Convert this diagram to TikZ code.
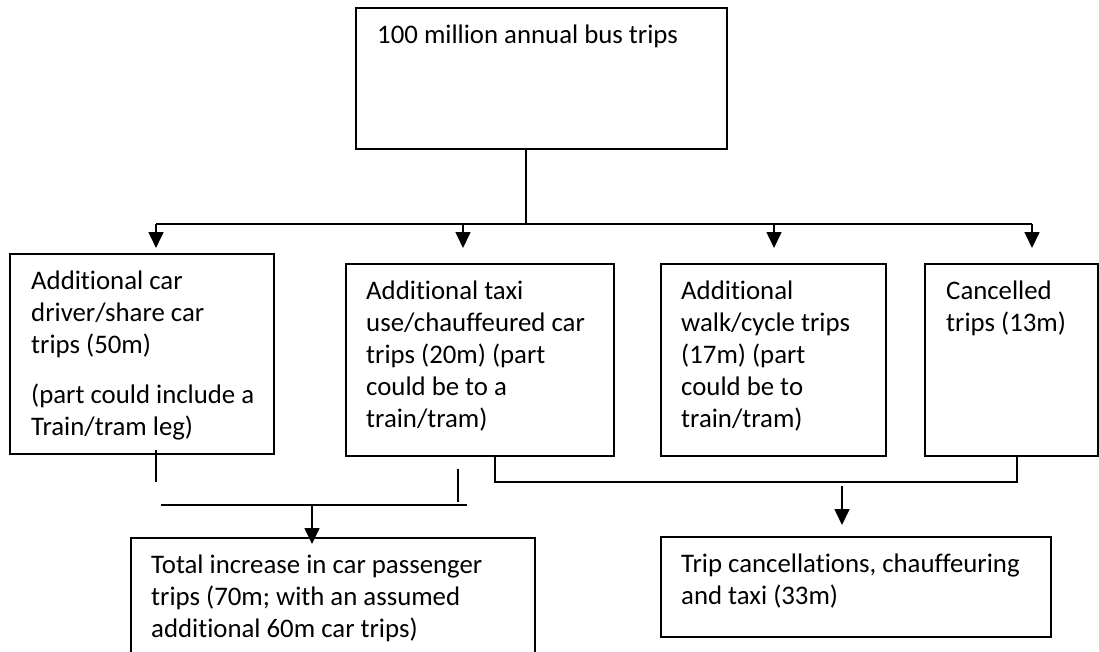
\documentclass[tikz,border=0pt]{standalone}
\usepackage{fontspec}
\setmainfont{Carlito}[Ligatures=NoCommon]
\usetikzlibrary{arrows.meta}
\begin{document}
\begin{tikzpicture}[x=1pt,y=-1pt,
  box/.style={draw=black,line width=1.7pt,rectangle,inner sep=0pt,anchor=north west},
  txt/.style={inner sep=0pt,anchor=north west,align=left,font=\fontsize{26.8}{32}\selectfont},
  conn/.style={draw=black,line width=1.6pt},
  arr/.style={conn,-{Triangle[length=16pt,width=15pt]}}]
\useasboundingbox (0,0) rectangle (1099,651);
\clip (0,0) rectangle (1099,651);
\fill[white] (0,0) rectangle (1099,651);
% boxes
\node[box,minimum width=371pt,minimum height=141pt] (top) at (355,7) {};
\node[box,minimum width=264pt,minimum height=200pt] (b1) at (9,253) {};
\node[box,minimum width=268pt,minimum height=192pt] (b2) at (345,263) {};
\node[box,minimum width=225pt,minimum height=192pt] (b3) at (660,263) {};
\node[box,minimum width=173pt,minimum height=192pt] (b4) at (924,263) {};
\node[box,minimum width=404pt,minimum height=140pt] (b5) at (130,537) {};
\node[box,minimum width=390pt,minimum height=100pt] (b6) at (660,536) {};
% texts
\newcommand\fl{\rule{0pt}{26pt}}
\node[txt] (ttop) at ([xshift=22pt,yshift=-10pt]top.north west) {\fl 100 million annual bus trips};
\node[txt] (t1) at ([xshift=22pt,yshift=-10pt]b1.north west) {\fl Additional car\\driver/share car\\trips (50m)\\[18pt](part could include a\\Train/tram leg)};
\node[txt] (t2) at ([xshift=21pt,yshift=-10pt]b2.north west) {\fl Additional taxi\\use/chauffeured car\\trips (20m) (part\\could be to a\\train/tram)};
\node[txt] (t3) at ([xshift=21pt,yshift=-10pt]b3.north west) {\fl Additional\\walk/cycle trips\\(17m) (part\\could be to\\train/tram)};
\node[txt] (t4) at ([xshift=22pt,yshift=-10pt]b4.north west) {\fl Cancelled\\trips (13m)};
\node[txt] (t5) at ([xshift=21pt,yshift=-10pt]b5.north west) {\fl Total increase in car passenger\\trips (70m; with an assumed\\additional 60m car trips)};
\node[txt] (t6) at ([xshift=21pt,yshift=-10pt]b6.north west) {\fl Trip cancellations, chauffeuring\\and taxi (33m)};
% top distribution
\coordinate (j0) at (526,224);
\coordinate (bl) at (156,224);
\coordinate (br) at (1032,224);
\coordinate (a2) at (463,224);
\coordinate (a3) at (774,224);
\draw[conn] (j0 |- top.south) -- (j0);
\draw[conn] (bl) -- (br);
\draw[arr,shorten >=5pt] (bl) -- (bl |- b1.north);
\draw[arr,shorten >=15pt] (a2) -- (a2 |- b2.north);
\draw[arr,shorten >=15pt] (a3) -- (a3 |- b3.north);
\draw[arr,shorten >=15pt] (br) -- (br |- b4.north);
% bottom left group
\coordinate (s1a) at (156,450);
\coordinate (s1b) at (156,482);
\draw[conn] (s1a) -- (s1b);
\coordinate (s2a) at (458,469);
\coordinate (s2b) at (458,502);
\draw[conn] (s2a) -- (s2b);
\coordinate (hl) at (161,505);
\coordinate (hr) at (467,505);
\draw[conn] (hl) -- (hr);
\coordinate (m5) at (312,505);
\draw[arr] (m5) -- ([yshift=-7pt]m5 |- b5.north);
% bottom right group
\coordinate (c2) at (495,482);
\coordinate (c4) at (1017,482);
\draw[conn] (c2 |- b2.south) -- (c2) -- (c4) -- (c4 |- b4.south);
\coordinate (m6) at (842,486);
\draw[arr,shorten >=11pt] (m6) -- (m6 |- b6.north);
\end{tikzpicture}
\end{document}
